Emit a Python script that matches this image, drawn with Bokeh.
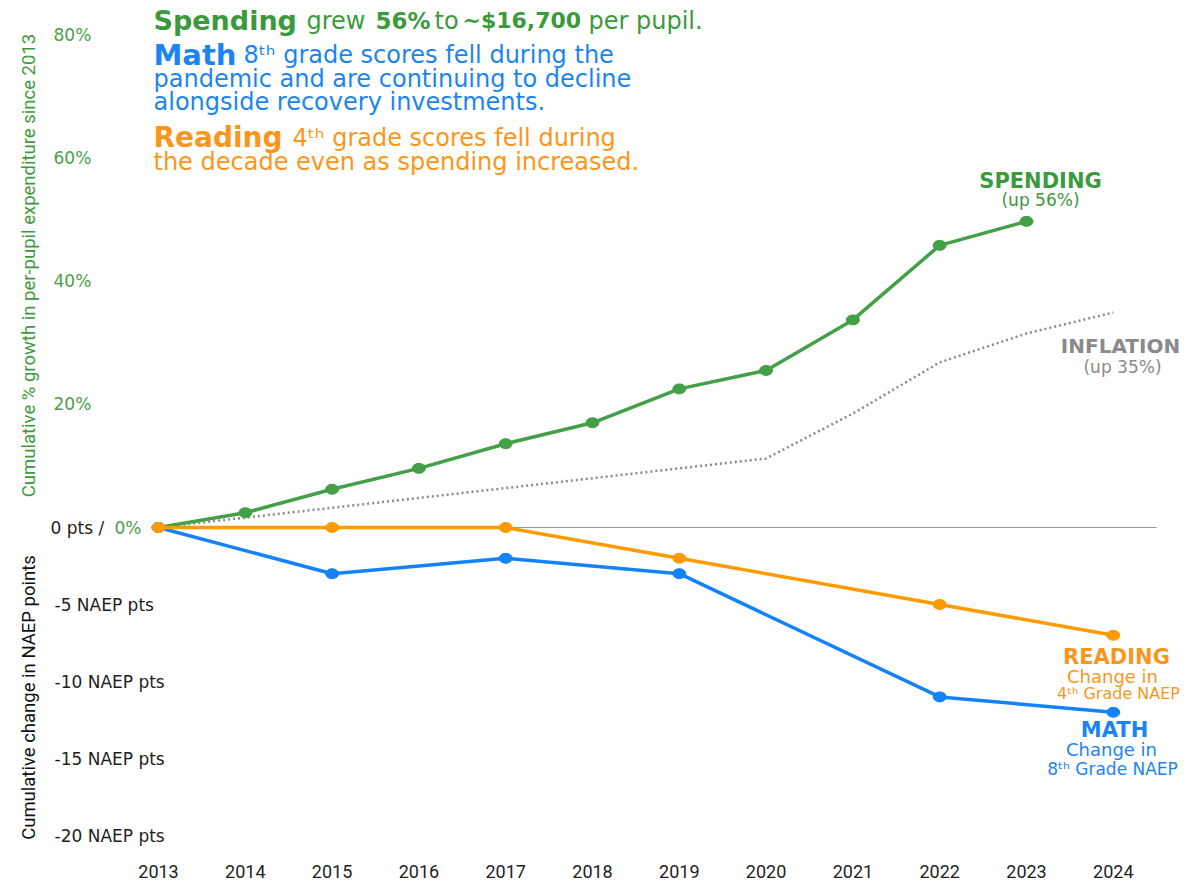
import math
from bokeh.plotting import figure
from bokeh.models import Range1d, Label, FixedTicker, ColumnDataSource
from bokeh.embed import file_html
from bokeh.resources import INLINE
from bokeh.core.properties import value

# ---------------- data ----------------
years = list(range(2013, 2025))
year_labels = [str(y) for y in years]

spend_years = list(range(2013, 2024))
spend_pct = [0, 2.4, 6.2, 9.6, 13.6, 17.0, 22.5, 25.5, 33.7, 45.8, 49.7]

infl_years = list(range(2013, 2025))
infl_pct = [0, 1.6, 3.2, 4.8, 6.4, 8.0, 9.6, 11.2, 18.5, 26.8, 31.5, 34.9]

naep_years = [2013, 2015, 2017, 2019, 2022, 2024]
reading_pts = [0, 0, 0, -2, -5, -7]
math_pts = [0, -3, -2, -3, -11, -12]

pct_ticks = [20, 40, 60, 80]
pct_tick_labels = ["20%", "40%", "60%", "80%"]
naep_ticks = [-5, -10, -15, -20]
naep_tick_labels = ["-5 NAEP pts", "-10 NAEP pts", "-15 NAEP pts", "-20 NAEP pts"]

# ---------------- colours / fonts ----------------
GREEN = "#43a047"
GREEN_T = "#3b9a3b"
BLUE = "#1483fb"
BLUE_T = "#1a85f2"
ORANGE = "#ff9a00"
ORANGE_T = "#fa961c"
GRAY = "#8a8a8a"
BODY = "DejaVu Sans"
NARROW = "Roboto"

# ---------------- geometry ----------------
W, H = 1184, 882
AX = 28                      # bottom border holding the year labels
FW, FH = W, H - AX
PX_PER_YEAR = 86.8
ZERO_X, ZERO_Y = 158, 527    # where 2013 / 0 sit on the canvas
X0 = 2013 - ZERO_X / PX_PER_YEAR
X1 = X0 + FW / PX_PER_YEAR
PX_PER_PCT = 6.16
Y1 = ZERO_Y / PX_PER_PCT
Y0 = -(FH - ZERO_Y) / PX_PER_PCT
PCT_PER_PT = 2.5             # vertical scale of the NAEP axis relative to %

p = figure(width=W, height=H, output_backend="svg", toolbar_location=None,
           x_range=Range1d(X0, X1), y_range=Range1d(Y0, Y1),
           y_axis_location=None, min_border_left=0, min_border_right=0,
           min_border_top=0, min_border_bottom=AX)
p.extra_y_ranges = {"naep": Range1d(Y0 / PCT_PER_PT, Y1 / PCT_PER_PT)}
p.outline_line_color = None
p.grid.visible = False
p.background_fill_color = "white"

ax = p.xaxis[0]
ax.ticker = FixedTicker(ticks=years)
ax.major_label_overrides = {y: s for y, s in zip(years, year_labels)}
ax.axis_line_color = None
ax.major_tick_line_color = None
ax.minor_tick_line_color = None
ax.major_label_standoff = 4
ax.major_label_text_font = NARROW
ax.major_label_text_font_size = "18px"
ax.major_label_text_color = "#222222"


def dx(px):
    return X0 + px * (X1 - X0) / FW


def dy(py):
    return Y1 - py * (Y1 - Y0) / FH


def label(px, py, text, size, color, bold=False, align="left",
          baseline="alphabetic", font=BODY, angle=0.0):
    p.add_layout(Label(x=dx(px), y=dy(py), text=text, text_font=font,
                       text_font_size=f"{size}px",
                       text_font_style="bold" if bold else "normal",
                       text_color=color, text_align=align,
                       text_baseline=baseline, angle=angle))


# zero line
p.line(x=[years[0], years[-1] + 0.5], y=[0, 0], line_color="#9a9a9a", line_width=1.2)

# inflation (dotted)
p.line(x=infl_years, y=infl_pct, line_color=GRAY, line_width=2.5, line_dash="2 3")

# spending
p.line(x=spend_years, y=spend_pct, line_color=GREEN, line_width=3.5)
p.ellipse(x=spend_years, y=spend_pct, width=13, height=10, width_units="screen",
          height_units="screen", fill_color=GREEN, line_color=GREEN)

# math
p.line(x=naep_years, y=math_pts, y_range_name="naep", line_color=BLUE, line_width=3.5)
p.ellipse(x=naep_years, y=math_pts, y_range_name="naep", width=13, height=10,
          width_units="screen", height_units="screen", fill_color=BLUE, line_color=BLUE)

# reading
p.line(x=naep_years, y=reading_pts, y_range_name="naep", line_color=ORANGE, line_width=3.5)
p.ellipse(x=naep_years, y=reading_pts, y_range_name="naep", width=13, height=10,
          width_units="screen", height_units="screen", fill_color=ORANGE, line_color=ORANGE)

# ---------------- left tick labels ----------------
pct_src = ColumnDataSource(dict(x=[dx(53)] * len(pct_ticks), y=pct_ticks, t=pct_tick_labels))
p.text(x="x", y="y", text="t", source=pct_src, text_font=value(BODY),
       text_font_size=value("17px"), text_color="#4a9e4a", text_baseline="middle",
       text_align="left")
naep_src = ColumnDataSource(dict(x=[dx(54)] * len(naep_ticks), y=naep_ticks, t=naep_tick_labels))
p.text(x="x", y="y", text="t", source=naep_src, y_range_name="naep", text_font=value(BODY),
       text_font_size=value("17px"), text_color="#1e1e1e", text_baseline="middle",
       text_align="left")
p.add_layout(Label(x=dx(50), y=0, text="0 pts /", text_font=BODY, text_font_size="17px",
                   text_color="#1e1e1e", text_baseline="middle", text_align="left"))
p.add_layout(Label(x=dx(114), y=0, text="0%", text_font=BODY, text_font_size="17px",
                   text_color="#4a9e4a", text_baseline="middle", text_align="left"))

# axis titles (rotated)
label(28, 265, "Cumulative % growth in per-pupil expenditure since 2013", 18.5, "#3f9a3f",
      align="center", baseline="middle", font=NARROW, angle=math.pi / 2)
label(28, 697, "Cumulative change in NAEP points", 18.5, "#111111",
      align="center", baseline="middle", font=NARROW, angle=math.pi / 2)

# ---------------- headline text ----------------
label(153, 20, "Spending", 27, GREEN_T, bold=True)
label(306, 20, "grew", 24, GREEN_T)
label(375, 20, "56%", 23, GREEN_T, bold=True)
label(434, 20, "to", 24, GREEN_T)
label(462, 20, "~$16,700", 22, GREEN_T, bold=True)
label(588, 20, "per pupil.", 24, GREEN_T)

label(153, 54, "Math", 29, BLUE_T, bold=True)
label(243, 54, "8ᵗʰ grade scores fell during the", 24, BLUE_T)
label(153, 78, "pandemic and are continuing to decline", 24, BLUE_T)
label(153, 101, "alongside recovery investments.", 24, BLUE_T)

label(153, 137, "Reading", 28, ORANGE_T, bold=True)
label(292, 137, "4ᵗʰ grade scores fell during", 24, ORANGE_T)
label(153, 161, "the decade even as spending increased.", 24, ORANGE_T)

# ---------------- series labels ----------------
label(1040, 180, "SPENDING", 21, GREEN_T, bold=True, align="center")
label(1040, 199, "(up 56%)", 17, GREEN_T, align="center")
label(1120, 345, "INFLATION", 20, GRAY, bold=True, align="center")
label(1122, 366, "(up 35%)", 17, GRAY, align="center")
label(1116, 656, "READING", 21, ORANGE_T, bold=True, align="center")
label(1112, 676, "Change in", 18, ORANGE_T, align="center")
label(1118, 693, "4ᵗʰ Grade NAEP", 16, ORANGE_T, align="center")
label(1114, 729, "MATH", 21, BLUE_T, bold=True, align="center")
label(1111, 749, "Change in", 18, BLUE_T, align="center")
label(1112, 768, "8ᵗʰ Grade NAEP", 17, BLUE_T, align="center")

open("out.html", "w").write(file_html(p, INLINE))
